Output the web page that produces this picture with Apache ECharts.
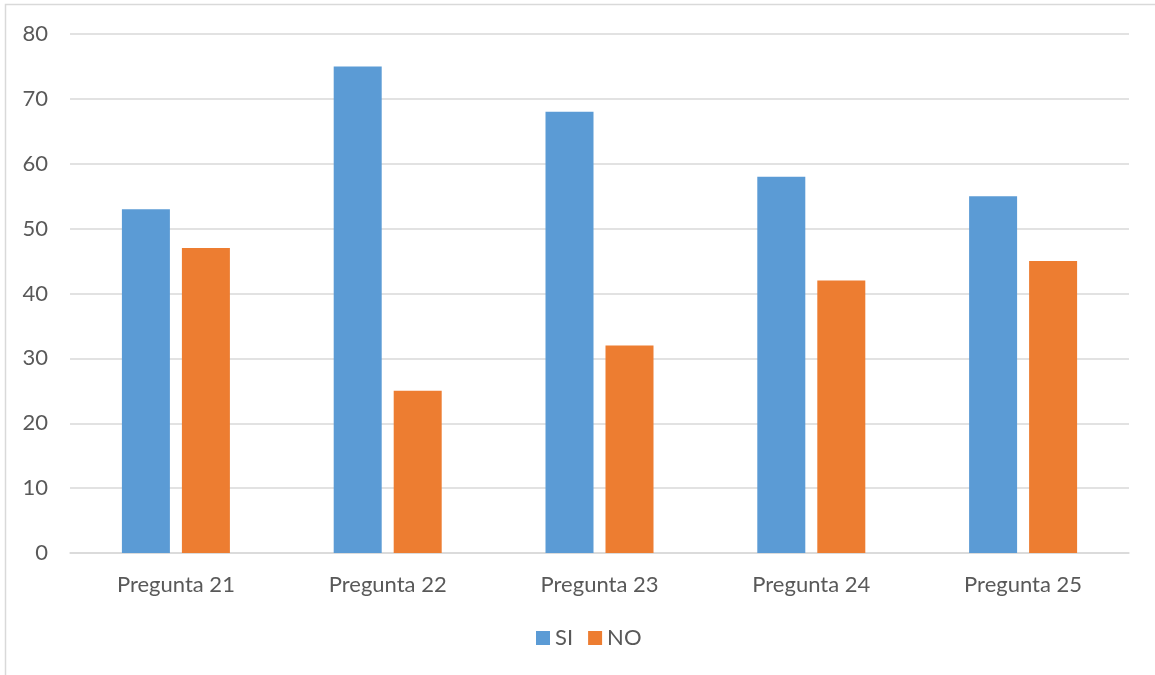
<!DOCTYPE html>
<html>
<head>
<meta charset="utf-8">
<script src="https://cdn.jsdelivr.net/npm/echarts@6/dist/echarts.min.js"></script>
<style>
  html, body { margin: 0; padding: 0; background: #fff; }
  #chart { width: 1155px; height: 675px; }
</style>
</head>
<body>
<div id="chart"></div>
<script>
const categories = ['Pregunta 21', 'Pregunta 22', 'Pregunta 23', 'Pregunta 24', 'Pregunta 25'];
const siValues = [53, 75, 68, 58, 55];
const noValues = [47, 25, 32, 42, 45];
const yTicks = { min: 0, max: 80, interval: 10 };

const textColor = '#595959';
const fontFamily = 'Lato, "Open Sans", sans-serif';

const chart = echarts.init(document.getElementById('chart'));
chart.setOption({
  animation: false,
  textStyle: { fontFamily: fontFamily },
  graphic: [{
    type: 'rect',
    shape: { x: 5.5, y: 4.5, width: 1300, height: 800 },
    style: { fill: 'none', stroke: '#d9d9d9', lineWidth: 1.5 },
    silent: true
  }],
  grid: { left: 70, right: 26, top: 34, bottom: 122, containLabel: false },
  legend: {
    data: ['SI', 'NO'],
    bottom: 21,
    left: 531,
    itemWidth: 14,
    itemHeight: 14,
    itemGap: 15,
    icon: 'rect',
    textStyle: { color: textColor, fontSize: 22, fontFamily: fontFamily }
  },
  xAxis: {
    type: 'category',
    data: categories,
    axisLine: { lineStyle: { color: '#d9d9d9', width: 1.5 } },
    axisTick: { show: false },
    axisLabel: { color: textColor, fontSize: 22, margin: 21, fontFamily: fontFamily }
  },
  yAxis: {
    type: 'value',
    min: yTicks.min,
    max: yTicks.max,
    interval: yTicks.interval,
    axisLine: { show: false },
    axisTick: { show: false },
    splitLine: { lineStyle: { color: '#d9d9d9', width: 1.5 } },
    axisLabel: { color: textColor, fontSize: 22, margin: 22, fontFamily: fontFamily }
  },
  series: [
    {
      name: 'SI',
      type: 'bar',
      data: siValues,
      barWidth: 48,
      barGap: '25%',
      itemStyle: { color: '#5b9bd5' }
    },
    {
      name: 'NO',
      type: 'bar',
      data: noValues,
      barWidth: 48,
      barGap: '25%',
      itemStyle: { color: '#ed7d31' }
    }
  ]
});
</script>
</body>
</html>
